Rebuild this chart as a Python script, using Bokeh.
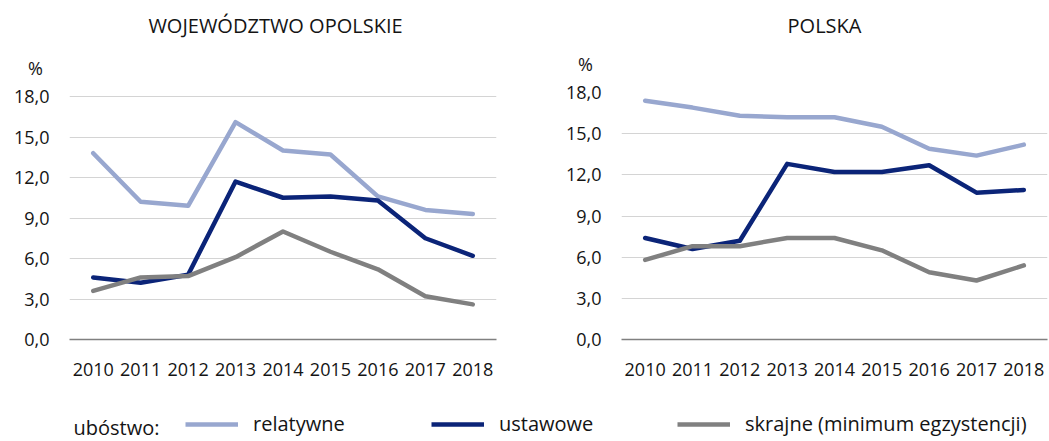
from bokeh.plotting import figure
from bokeh.models import Label, Legend, LegendItem, FixedTicker, Range1d
from bokeh.layouts import column, row
from bokeh.embed import file_html
from bokeh.resources import INLINE

years = [2010, 2011, 2012, 2013, 2014, 2015, 2016, 2017, 2018]
year_labels = ["2010", "2011", "2012", "2013", "2014", "2015", "2016", "2017", "2018"]
y_ticks = [0, 3, 6, 9, 12, 15, 18]
y_tick_labels = ["0,0", "3,0", "6,0", "9,0", "12,0", "15,0", "18,0"]

opolskie_relatywne = [13.8, 10.2, 9.9, 16.1, 14.0, 13.7, 10.6, 9.6, 9.3]
opolskie_ustawowe = [4.6, 4.2, 4.8, 11.7, 10.5, 10.6, 10.3, 7.5, 6.2]
opolskie_skrajne = [3.6, 4.6, 4.7, 6.1, 8.0, 6.5, 5.2, 3.2, 2.6]

polska_relatywne = [17.4, 16.9, 16.3, 16.2, 16.2, 15.5, 13.9, 13.4, 14.2]
polska_ustawowe = [7.4, 6.6, 7.2, 12.8, 12.2, 12.2, 12.7, 10.7, 10.9]
polska_skrajne = [5.8, 6.8, 6.8, 7.4, 7.4, 6.5, 4.9, 4.3, 5.4]

chart_titles = ["WOJEWÓDZTWO OPOLSKIE", "POLSKA"]
unit_label = "%"
legend_title = "ubóstwo:"
series_names = ["relatywne", "ustawowe", "skrajne (minimum egzystencji)"]
colors = ["#98A7CF", "#0B2478", "#808080"]
FONT = "Open Sans"
TXT = "#141414"
LW = 4.5
W = 1048
HDR_H = 79

# ---- header: chart titles and unit labels (pixel-space figure) ----
hdr = figure(output_backend="svg", toolbar_location=None, frame_width=W, frame_height=HDR_H,
             min_border=0, x_range=Range1d(0, W), y_range=Range1d(HDR_H, 0), tools="")
hdr.outline_line_color = None
hdr.xaxis.visible = False
hdr.yaxis.visible = False
hdr.grid.visible = False
for txt, x in zip(chart_titles, [275, 824]):
    hdr.add_layout(Label(x=x, y=25, text=txt, text_font=FONT, text_font_size="20px",
                         text_color=TXT, text_align="center", text_baseline="alphabetic"))
for x, y in [(35, 67), (585, 63)]:
    hdr.add_layout(Label(x=x, y=y, text=unit_label, text_font=FONT, text_font_size="18px",
                         text_color=TXT, text_align="center", text_baseline="alphabetic"))


def make_chart(rel, ust, skr, bl, fw, br, ymax):
    p = figure(output_backend="svg", toolbar_location=None,
               frame_width=fw, frame_height=247,
               min_border_left=bl, min_border_right=br,
               min_border_top=13, min_border_bottom=53,
               x_range=Range1d(2009.5, 2018.5), y_range=Range1d(0, ymax),
               tools="")
    p.outline_line_color = None
    p.background_fill_color = "white"
    p.border_fill_color = "white"
    for vals, c in zip([rel, ust, skr], colors):
        p.line(years, vals, line_color=c, line_width=LW, line_join="round", line_cap="round")
    p.xgrid.grid_line_color = None
    p.ygrid.grid_line_color = "#D4D4D4"
    p.ygrid.grid_line_width = 1
    p.yaxis.ticker = FixedTicker(ticks=y_ticks)
    p.yaxis.major_label_overrides = {t: l for t, l in zip(y_ticks, y_tick_labels)}
    p.xaxis.ticker = FixedTicker(ticks=years)
    p.xaxis.major_label_overrides = {y: l for y, l in zip(years, year_labels)}
    for ax in (p.xaxis[0], p.yaxis[0]):
        ax.major_tick_line_color = None
        ax.minor_tick_line_color = None
        ax.major_label_text_font = FONT
        ax.major_label_text_font_size = "18px"
        ax.major_label_text_color = TXT
    p.yaxis.axis_line_color = None
    p.yaxis.major_label_standoff = 14
    p.xaxis.axis_line_color = "#808080"
    p.xaxis.axis_line_width = 1.5
    p.xaxis.major_label_standoff = 17
    return p


# left panel: 18 lies 4px below the frame top (frame 247 px, 243 px for 0-18)
p1 = make_chart(opolskie_relatywne, opolskie_ustawowe, opolskie_skrajne,
                69, 427, 44, 18 * 247 / 243)
p2 = make_chart(polska_relatywne, polska_ustawowe, polska_skrajne,
                81, 426, 1, 18)

# ---- legend ----
leg = figure(output_backend="svg", toolbar_location=None, frame_width=W, frame_height=48,
             min_border=0, x_range=Range1d(0, W), y_range=Range1d(0, 48), tools="")
leg.outline_line_color = None
leg.xaxis.visible = False
leg.yaxis.visible = False
leg.grid.visible = False
items = []
for name, c in zip(series_names, colors):
    r = leg.line(x=[-100, -90], y=[-100, -100], line_color=c, line_width=LW)
    items.append(LegendItem(label=name, renderers=[r]))
legend = Legend(items=items, orientation="horizontal", location=(185, 3),
                glyph_width=53, glyph_height=20, label_standoff=15, label_width=178,
                spacing=0, padding=0, margin=0, border_line_color=None,
                background_fill_alpha=0, label_text_font=FONT, label_text_font_size="20px",
                label_text_color=TXT, label_height=20)
leg.add_layout(legend, "center")
leg.add_layout(Label(x=73, y=13, text=legend_title, text_font=FONT, text_font_size="20px",
                     text_color=TXT, text_align="left", text_baseline="middle"))

layout = column(hdr, row(p1, p2), leg)
open("out.html", "w").write(file_html(layout, INLINE))
